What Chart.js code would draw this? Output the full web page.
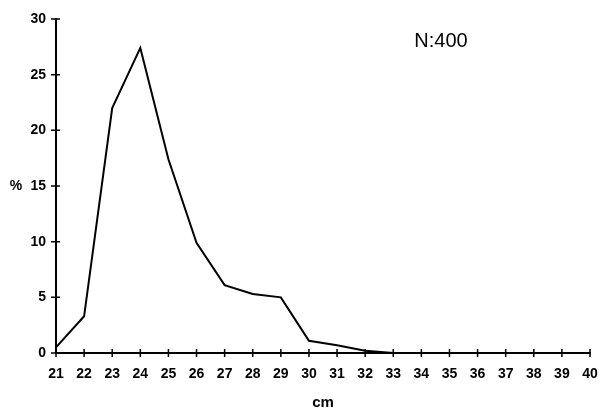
<!DOCTYPE html>
<html>
<head>
<meta charset="utf-8">
<script src="https://cdn.jsdelivr.net/npm/chart.js@4.4.1/dist/chart.umd.min.js"></script>
<style>
  html, body { margin: 0; padding: 0; background: #fff; }
  #wrap { width: 601px; height: 409px; position: relative; }
</style>
</head>
<body>
<div id="wrap"><canvas id="lengthChart"></canvas></div>
<script>
const lengths = ["21", "22", "23", "24", "25", "26", "27", "28", "29", "30",
                 "31", "32", "33", "34", "35", "36", "37", "38", "39", "40"];
const percent = [0.5, 3.3, 22.0, 27.4, 17.4, 9.9, 6.1, 5.3, 5.0, 1.1,
                 0.7, 0.2, 0, 0, 0, 0, 0, 0, 0, 0];
const yTicks = [0, 5, 10, 15, 20, 25, 30];
const sampleLabel = "N:400";

const tickFont = { family: "'Liberation Sans', Arial, sans-serif", size: 14, weight: "bold" };

// ticks that cross the axis line, plus the loose labels
const extras = {
    id: "extras",
    afterDraw(chart) {
        const ctx = chart.ctx;
        const x = chart.scales.x, y = chart.scales.y;
        const area = chart.chartArea;
        ctx.save();
        ctx.strokeStyle = "#000";
        ctx.lineWidth = 1.5;
        ctx.beginPath();
        y.ticks.forEach((t, i) => {
            const py = y.getPixelForTick(i);
            ctx.moveTo(area.left - 5, py);
            ctx.lineTo(area.left + 4, py);
        });
        x.ticks.forEach((t, i) => {
            const px = x.getPixelForTick(i);
            ctx.moveTo(px, area.bottom - 4);
            ctx.lineTo(px, area.bottom + 4);
        });
        ctx.stroke();

        ctx.fillStyle = "#000";
        ctx.textBaseline = "middle";
        ctx.textAlign = "center";
        ctx.font = "bold 14px 'Liberation Sans', Arial, sans-serif";
        ctx.fillText("%", 16, y.getPixelForValue(15));
        ctx.font = "bold 15px 'Liberation Sans', Arial, sans-serif";
        ctx.fillText("cm", (area.left + area.right) / 2, 403);
        ctx.font = "20px 'Liberation Sans', Arial, sans-serif";
        ctx.fillText(sampleLabel, 441, 41);
        ctx.restore();
    }
};

new Chart(document.getElementById("lengthChart").getContext("2d"), {
    type: "line",
    data: {
        labels: lengths,
        datasets: [{
            data: percent,
            borderColor: "#000",
            borderWidth: 2,
            pointRadius: 0,
            tension: 0,
            fill: false
        }]
    },
    options: {
        responsive: true,
        maintainAspectRatio: false,
        animation: false,
        layout: { padding: { left: 0, right: 11, top: 19, bottom: 0 } },
        plugins: { legend: { display: false }, tooltip: { enabled: false } },
        scales: {
            x: {
                offset: false,
                grid: { display: false },
                border: { display: true, color: "#000", width: 2 },
                ticks: { color: "#000", font: tickFont, padding: 5, maxRotation: 0, autoSkip: false },
                afterFit: s => { s.height = 56; s.paddingLeft = 0; s.paddingRight = 0; }
            },
            y: {
                min: 0,
                max: 30,
                afterBuildTicks: s => { s.ticks = yTicks.map(v => ({ value: v })); },
                grid: { display: false },
                border: { display: true, color: "#000", width: 2 },
                ticks: { color: "#000", font: tickFont, padding: 2 },
                afterFit: s => { s.width = 56; s.paddingTop = 0; s.paddingBottom = 0; }
            }
        }
    },
    plugins: [extras]
});
</script>
</body>
</html>
